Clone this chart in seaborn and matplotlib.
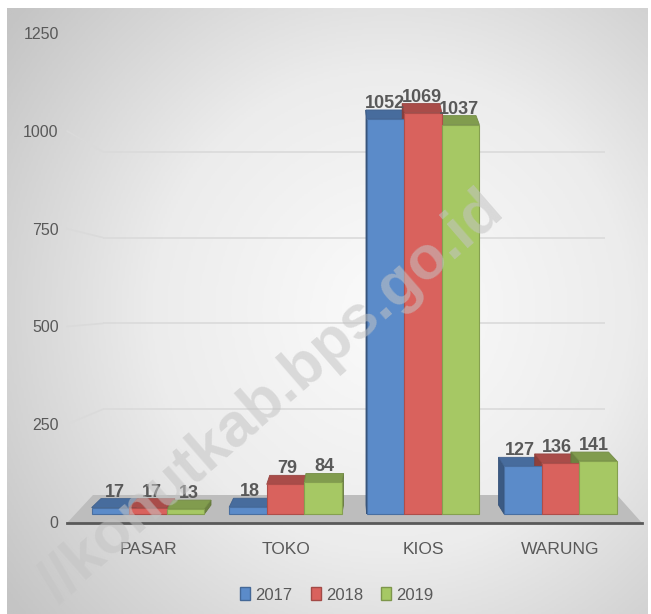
import matplotlib
matplotlib.use('Agg')
import matplotlib.pyplot as plt
from matplotlib.patches import Polygon, Patch, ConnectionPatch
from matplotlib.colors import to_rgb, LinearSegmentedColormap
import seaborn as sns
import pandas as pd
import numpy as np

# data
kategori = ['PASAR', 'TOKO', 'KIOS', 'WARUNG']
tahun = ['2017', '2018', '2019']
jumlah_2017 = [17, 18, 1052, 127]
jumlah_2018 = [17, 79, 1069, 136]
jumlah_2019 = [13, 84, 1037, 141]
y_ticks = [0, 250, 500, 750, 1000, 1250]

warna = ['#5b8bc9', '#d9625d', '#a6c864']
abu_teks = '#595959'

W, H = 651, 614
SKALA = 0.3755      # px per unit pada muka depan batang
JARAK = 137.5       # px antar kategori
DALAM_PX = 9        # kedalaman 3D (px)


def kotak(x0, y0, x1, y1):
    '''posisi axes dari koordinat piksel (y dari atas)'''
    return [x0 / W, 1 - y1 / H, (x1 - x0) / W, (y1 - y0) / H]


def gelap(c, f):
    r, g, b = to_rgb(c)
    return (r * (1 - f), g * (1 - f), b * (1 - f))


df = pd.DataFrame({
    'kategori': kategori * 3,
    'tahun': [t for t in tahun for _ in kategori],
    'jumlah': jumlah_2017 + jumlah_2018 + jumlah_2019,
})
per_tahun = [jumlah_2017, jumlah_2018, jumlah_2019]

sns.set_theme(style='white')
plt.rcParams['font.family'] = ['Liberation Sans', 'DejaVu Sans']

fig = plt.figure(figsize=(W / 100, H / 100), dpi=100)
fig.patch.set_facecolor('white')

# latar gradasi radial
bg = fig.add_axes(kotak(7, 8, 648, 614))
yy, xx = np.mgrid[0:1:300j, 0:1:300j]
r = np.sqrt(((xx - 0.6) / 0.75) ** 2 + ((yy - 0.5) / 0.8) ** 2)
cmap_bg = LinearSegmentedColormap.from_list('bg', ['#fbfbfb', '#ececec', '#c4c4c4'])
bg.imshow(np.clip(r, 0, 1), cmap=cmap_bg, aspect='auto', extent=(0, 1, 0, 1),
          vmin=0, vmax=1)
bg.set_axis_off()

# dinding belakang (garis grid)
ax_wall = fig.add_axes(kotak(103, 66, 605, 495))
ax_wall.set_ylim(0, 1250)
ax_wall.set_yticks(y_ticks[1:-1])
ax_wall.grid(axis='y', color='#dadada', lw=1.2)
ax_wall.tick_params(left=False, bottom=False, labelleft=False, labelbottom=False)
ax_wall.patch.set_visible(False)
sns.despine(ax=ax_wall, left=True, bottom=True)

# label sumbu y
ax_lab = fig.add_axes(kotak(67, 33.25, 642, 522))
ax_lab.set_ylim(0, 1250)
ax_lab.set_yticks(y_ticks)
ax_lab.set_yticklabels([str(t) for t in y_ticks])
ax_lab.tick_params(axis='y', length=0, pad=6, labelsize=11.5, labelcolor=abu_teks)
ax_lab.tick_params(axis='x', bottom=False, labelbottom=False)
ax_lab.patch.set_visible(False)
sns.despine(ax=ax_lab, left=True, bottom=True)

for v in y_ticks[1:-1]:
    seg = ConnectionPatch(xyA=(0.0, v), coordsA=ax_lab.get_yaxis_transform(),
                          xyB=(0.0, v), coordsB=ax_wall.get_yaxis_transform(),
                          color='#dadada', lw=1.2)
    fig.add_artist(seg)

# batang (muka depan)
ax = fig.add_axes(kotak(67, 20, 642, 523))
sns.barplot(data=df, x='kategori', y='jumlah', hue='tahun', palette=warna,
            width=0.82, saturation=1, ax=ax, legend=False, errorbar=None)
x_kiri = (67 - 148) / JARAK
ax.set_xlim(x_kiri, (642 - 148) / JARAK)
ax.set_ylim(-(523 - 514) / SKALA, (514 - 20) / SKALA)
ax.patch.set_visible(False)

# lantai
lantai_y = (523 - 495) / (523 - 20)
lantai = Polygon([(0, 0), (1, 0), ((617 - 67) / 575, lantai_y), ((93 - 67) / 575, lantai_y)],
                 closed=True, transform=ax.transAxes, facecolor='#bdbdbd',
                 edgecolor='none', zorder=0.5)
ax.add_patch(lantai)

ddy = DALAM_PX / SKALA
for i, (wadah, w) in enumerate(zip(ax.containers, warna)):
    for bar, nilai in zip(wadah, per_tahun[i]):
        bar.set_edgecolor(gelap(w, 0.2))
        bar.set_linewidth(0.8)
        bar.set_zorder(3)
        x0, lebar, h = bar.get_x(), bar.get_width(), bar.get_height()
        tengah_px = 67 + (x0 + lebar / 2 - x_kiri) * JARAK
        ddx = -0.0363 * (tengah_px - 368) / JARAK
        atas = Polygon([(x0, h), (x0 + lebar, h), (x0 + lebar + ddx, h + ddy),
                        (x0 + ddx, h + ddy)], closed=True, facecolor=gelap(w, 0.22),
                       edgecolor=gelap(w, 0.3), lw=0.6, zorder=2)
        xs = x0 + lebar if ddx >= 0 else x0
        sisi = Polygon([(xs, 0), (xs + ddx, ddy), (xs + ddx, h + ddy), (xs, h)],
                       closed=True, facecolor=gelap(w, 0.35),
                       edgecolor=gelap(w, 0.4), lw=0.6, zorder=2)
        ax.add_patch(sisi)
        ax.add_patch(atas)
        ax.text(x0 + lebar / 2 + ddx / 2, h + ddy + 2 / SKALA, str(nilai),
                ha='center', va='baseline', fontsize=13, fontweight='bold',
                color=abu_teks, zorder=5)

ax.set_xlabel('')
ax.set_ylabel('')
ax.set_yticks([])
ax.tick_params(axis='x', length=0, pad=14, labelsize=12.5, labelcolor=abu_teks)
sns.despine(ax=ax, left=True)
ax.spines['bottom'].set_color(abu_teks)
ax.spines['bottom'].set_linewidth(2)

# legenda
handles = [Patch(facecolor=w, edgecolor=gelap(w, 0.25)) for w in warna]
leg = fig.legend(handles, tahun, loc='center', ncol=3, frameon=False,
                 bbox_to_anchor=(337 / W, 1 - 595 / H), fontsize=12,
                 handlelength=0.6, handleheight=0.8, handletextpad=0.3,
                 columnspacing=1.1)
for t in leg.get_texts():
    t.set_color(abu_teks)

# tanda air
fig.text(272 / W, 1 - 398 / H, '//konutkab.bps.go.id', rotation=41,
         rotation_mode='anchor', ha='center', va='center', fontsize=44,
         fontweight='bold', color='#c4c4c4', alpha=0.55, zorder=10)

fig.savefig('out.png', dpi=100)
